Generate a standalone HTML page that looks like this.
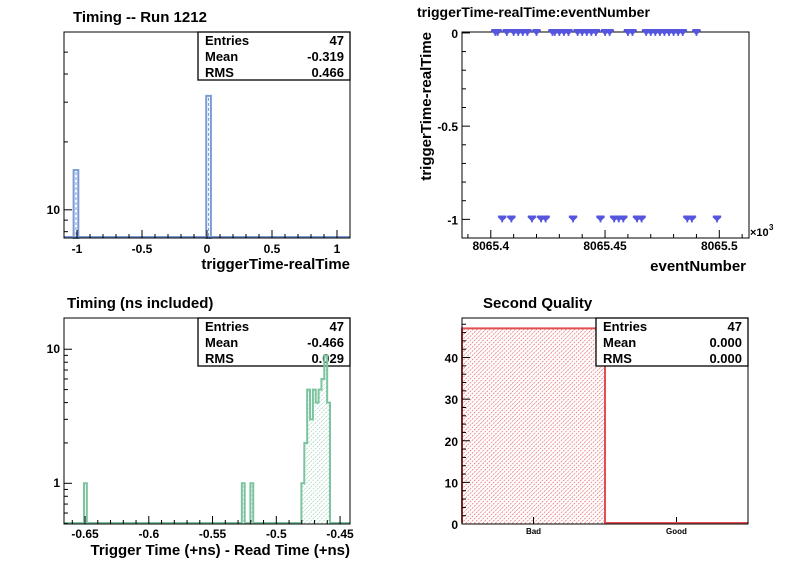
<!DOCTYPE html>
<html><head><meta charset="utf-8"><style>
html,body{margin:0;padding:0;background:#fff}
svg{display:block;font-family:"Liberation Sans",Arial,sans-serif;font-weight:bold}
</style></head><body>
<svg id="c" width="796" height="572" viewBox="0 0 796 572" xmlns="http://www.w3.org/2000/svg">
<defs>
<pattern id="hatchG" width="3" height="3" patternUnits="userSpaceOnUse" patternTransform="rotate(45)"><line x1="0" y1="0" x2="0" y2="3" stroke="#7cc4a0" stroke-width="1" stroke-dasharray="2,1"/></pattern>
<pattern id="hatchR" width="3" height="3" patternUnits="userSpaceOnUse" patternTransform="rotate(45)"><line x1="0" y1="0" x2="0" y2="3" stroke="#e05050" stroke-width="1.2" stroke-dasharray="2,1"/></pattern>
</defs>
<g id="root"></g>
</svg>
<script>
// Panel 1 data
const p1BinCenters=[-1.008,0.012];
const p1Counts=[15,32];
const p1BinWidth=0.036;
const p1XTicks=[-1,-0.5,0,0.5,1];
const p1XTickLabels=["-1","-0.5","0","0.5","1"];
// Panel 2 data
const p2X0=[2,3,7,10,12,14,16,20,27,28,30,32,34,38,40,42,44,46,50,52,60,62,68,70,72,74,76,78,80,82,84,90];
const p2X1=[5,9,18,22,24,36,48,54,56,58,64,66,86,88,99];
const p2XTicks=[8065.4,8065.45,8065.5];
const p2XTickLabels=["8065.4","8065.45","8065.5"];
const p2YTicks=[0,-0.5,-1];
const p2YTickLabels=["0","-0.5","-1"];
// Panel 3 data
const p3BinCenters=[-0.6497,-0.5259,-0.5192,-0.4792,-0.4769,-0.4747,-0.4724,-0.4702,-0.4680,-0.4657,-0.4635,-0.4612,-0.4590];
const p3Counts=[1,1,1,1,2,5,3,5,4,5,6,9,4];
const p3BinWidth=0.002243;
const p3XTicks=[-0.65,-0.6,-0.55,-0.5,-0.45];
const p3XTickLabels=["-0.65","-0.6","-0.55","-0.5","-0.45"];
// Panel 4 data
const p4Cats=["Bad","Good"];
const p4Counts=[47,0];
const p4YTicks=[0,10,20,30,40];
const p4YTickLabels=["0","10","20","30","40"];

const NS="http://www.w3.org/2000/svg";
const root=document.getElementById('root');
function mk(tag,attrs,parent){const e=document.createElementNS(NS,tag);for(const k in attrs)e.setAttribute(k,attrs[k]);(parent||root).appendChild(e);return e;}
function txt(s,x,y,size,anchor,parent,extra){const t=mk('text',Object.assign({x:x,y:y,'font-size':size,'text-anchor':anchor||'start',fill:'#000'},extra||{}),parent);t.textContent=s;return t;}
function lin(a,b,c,d){return v=>c+(v-a)*(d-c)/(b-a);}
function logs(a,b,c,d){const la=Math.log10(a),lb=Math.log10(b);return v=>c+(Math.log10(v)-la)*(d-c)/(lb-la);}
function line(x1,y1,x2,y2,col,w,parent){return mk('line',{x1,y1,x2,y2,stroke:col||'#000','stroke-width':w||1},parent);}
function frame(x1,y1,x2,y2,name){const g=mk('g',{});mk('rect',{x:x1,y:y1,width:x2-x1,height:y2-y1,fill:'none',stroke:'#000','stroke-width':1},g);return g;}
function stats(x1,y1,x2,y2,vals,name){const g=mk('g',{});
 mk('rect',{x:x1,y:y1,width:x2-x1,height:y2-y1,fill:'#fff',stroke:'#000','stroke-width':1.3},g);
 const labs=["Entries","Mean","RMS"];const h=(y2-y1)/3;
 for(let i=0;i<3;i++){txt(labs[i],x1+7,y1+h*i+h*0.5+5,13,'start',g);txt(vals[i],x2-6,y1+h*i+h*0.5+5,13,'end',g);}
}
function stepPath(centers,counts,bw,sx,sy,yBase,xl,xr){
 let d='M'+xl+','+yBase;
 const idx=centers.map((c,i)=>i).sort((a,b)=>centers[a]-centers[b]);
 let curX=xl;
 idx.forEach(i=>{const l=sx(centers[i]-bw/2),r=sx(centers[i]+bw/2),t=sy(counts[i]);
  if(Math.abs(l-curX)>0.6){d+=' L'+curX+','+yBase+' L'+l+','+yBase;}
  d+=' L'+l+','+t+' L'+r+','+t;curX=r;});
 d+=' L'+curX+','+yBase+' L'+xr+','+yBase;return d;
}

// ---------- Panel 1 ----------
(function(){
 const X1=64,X2=350,Y1=32,Y2=238;
 const sx=lin(-1.1,1.1,X1,X2), sy=logs(7.5,61.4,Y2,Y1);
 const g=frame(X1,Y1,X2,Y2,'timing-run-plot');
 p1BinCenters.forEach((c,i)=>{const l=sx(c-p1BinWidth/2),r=sx(c+p1BinWidth/2),t=sy(p1Counts[i]);
  const b=mk('rect',{x:l,y:t,width:r-l,height:Y2-t,fill:'#fff',stroke:'#7a9ad8','stroke-width':2},g);
  
  line((l+r)/2,t+2,(l+r)/2,Y2,'#7a9ad8',1,g).setAttribute('stroke-dasharray','3,2');});
 line(X1,Y2-1,X2,Y2-1,'#7a9ad8',2,g);
 mk('rect',{x:X1,y:Y1,width:X2-X1,height:Y2-Y1,fill:'none',stroke:'#000'},g);
 for(let v=-1.1;v<=1.1001;v+=0.1){const x=sx(v);const maj=Math.abs(Math.round(v*2)/2-v)<1e-6;line(x,Y2,x,Y2-(maj?8:4),'#000',1,g);}
 p1XTicks.forEach((v,i)=>txt(p1XTickLabels[i],sx(v),253,12,'middle',g));
 [8,9,10,20,30,40,50].forEach(v=>{const y=sy(v);line(X1,y,X1+(v===10?8:4),y,'#000',1,g);});
 txt("10",60,214,12,'end',g);
 txt("triggerTime-realTime",350,269,15,'end',g);
 txt("Timing -- Run 1212",73,22,15,'start');
 stats(198,32,350,80,["47","-0.319","0.466"],'stats-box-1');
})();

// ---------- Panel 2 ----------
(function(){
 const X1=462,X2=749,Y1=32,Y2=238;
 const sx=lin(8065.3874,8065.513,X1,X2), sy=lin(0.005,-1.1,Y1,Y2);
 const g=frame(X1,Y1,X2,Y2,'scatter-plot');
 for(let v=8065.39;v<=8065.511;v+=0.01){const x=sx(v);const maj=Math.abs(Math.round(v*20)/20-v)<1e-6;line(x,Y2,x,Y2-(maj?8:4),'#000',1,g);}
 p2XTicks.forEach((v,i)=>txt(p2XTickLabels[i],sx(v),250,12,'middle',g));
 for(let k=0;k<=11;k++){const v=-k/10;const y=sy(v);line(X1,y,X1+(k%5===0?8:4),y,'#000',1,g);}
 p2YTicks.forEach((v,i)=>txt(p2YTickLabels[i],458,sy(v)+5,12,'end',g));
 function marker(ev,val){const x=sx(8065.4+ev/1000),y=sy(val);
  const m=mk('path',{d:`M${x-4},${y-3} L${x+4},${y-3} M${x-4},${y-3} L${x},${y+1} L${x+4},${y-3} M${x},${y-3} L${x},${y+3} M${x-2},${y-2} L${x+2},${y-2}`,stroke:'#5555dd','stroke-width':1.8,fill:'none'},g);
  }
 p2X0.forEach(e=>marker(e,0));
 p2X1.forEach(e=>marker(e,-1));
 txt("\u00d710",750,236,11,'start',g);txt("3",769,230,8,'start',g);
 txt("eventNumber",746,271,15,'end',g);
 const yt=txt("triggerTime-realTime",0,0,15,'end',g,{transform:'translate(431,32) rotate(-90)'});
 
 txt("triggerTime-realTime:eventNumber",417,17,14,'start');
})();

// ---------- Panel 3 ----------
(function(){
 const X1=64,X2=350,Y1=318,Y2=524;
 const sx=lin(-0.6665,-0.4422,X1,X2), sy=logs(0.497,17.1,Y2,Y1);
 const g=frame(X1,Y1,X2,Y2,'timing-ns-plot');
 stats(198,318,350,366,["47","-0.466","0.029"],'stats-box-3');
 const g2=mk('g',{});
 p3BinCenters.forEach((c,i)=>{const l=sx(c-p3BinWidth/2),r=sx(c+p3BinWidth/2),t=sy(p3Counts[i]);
  const b=mk('rect',{x:l,y:t,width:r-l,height:Y2-t,fill:'url(#hatchG)'},g2);
  });
 mk('path',{d:stepPath(p3BinCenters,p3Counts,p3BinWidth,sx,sy,Y2-1,X1,X2),fill:'none',stroke:'#7cc4a0','stroke-width':2},g2);
 mk('rect',{x:X1,y:Y1,width:X2-X1,height:Y2-Y1,fill:'none',stroke:'#000'},g2);
 for(let k=0;k<=22;k++){const v=-0.66+k*0.01;const x=sx(v);if(x<X1||x>X2)continue;const maj=Math.abs(Math.round(v*20)/20-v)<1e-6;line(x,Y2,x,Y2-(maj?8:4),'#000',1,g2);}
 p3XTicks.forEach((v,i)=>txt(p3XTickLabels[i],sx(v),538,12,'middle',g2));
 [0.5,0.6,0.7,0.8,0.9,1,2,3,4,5,6,7,8,9,10].forEach(v=>{const y=sy(v);line(X1,y,X1+((v===1||v===10)?8:4),y,'#000',1,g2);});
 txt("10",60,353,12,'end',g2);txt("1",60,487,12,'end',g2);
 txt("Trigger Time (+ns) - Read Time (+ns)",350,555,15,'end',g2);
 txt("Timing (ns included)",67,308,15,'start');
})();

// ---------- Panel 4 ----------
(function(){
 const X1=462,X2=748,Y1=318,Y2=524;
 const sy=lin(0,49.5,Y2,Y1); const bw=(X2-X1)/p4Cats.length;
 const g=frame(X1,Y1,X2,Y2,'second-quality-plot');
 p4Cats.forEach((c,i)=>{const l=X1+i*bw,r=l+bw,t=sy(p4Counts[i]);
  const b=mk('rect',{x:l,y:t,width:bw,height:Y2-t,fill:'url(#hatchR)'},g);
  
  line((l+r)/2,Y2,(l+r)/2,Y2-7,'#000',1,g);
  txt(c,(l+r)/2,534,8,'middle',g);});
 let d='M'+X1+','+(Y2-1);p4Cats.forEach((c,i)=>{const l=X1+i*bw,t=Math.min(sy(p4Counts[i]),Y2-1);d+=' L'+l+','+t+' L'+(l+bw)+','+t;});d+=' L'+X2+','+(Y2-1);
 mk('path',{d:d,fill:'none',stroke:'#e05050','stroke-width':2},g);
 mk('rect',{x:X1,y:Y1,width:X2-X1,height:Y2-Y1,fill:'none',stroke:'#000'},g);
 for(let v=0;v<=48;v+=2){const y=sy(v);line(X1,y,X1+(v%10===0?8:4),y,'#000',1,g);}
 p4YTicks.forEach((v,i)=>txt(p4YTickLabels[i],458,sy(v)+5,12,'end',g));
 txt("Second Quality",483,308,15,'start');
 stats(596,318,748,366,["47","0.000","0.000"],'stats-box-4');
})();
</script>
</body></html>
